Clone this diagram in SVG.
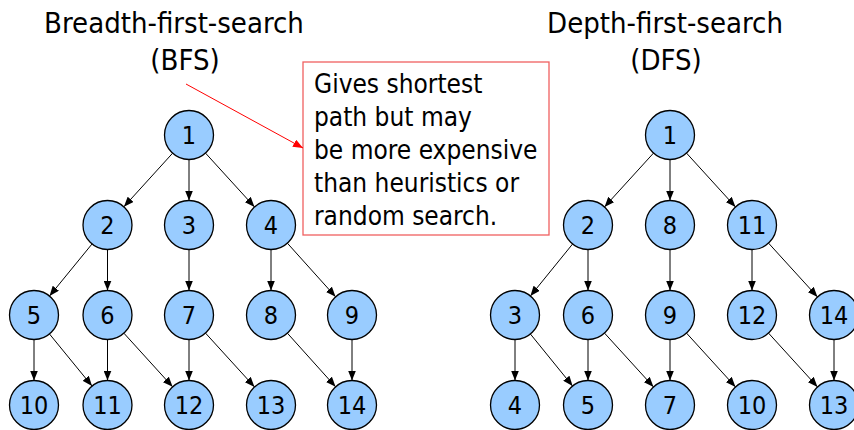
<svg xmlns="http://www.w3.org/2000/svg" width="854" height="430" viewBox="0 0 854 430">
  <defs>
    <marker id="arrow" viewBox="0 0 10 8" refX="10" refY="4" markerWidth="10" markerHeight="8" markerUnits="userSpaceOnUse" orient="auto">
      <path d="M0,0 L10,4 L0,8 z" fill="#000"/>
    </marker>
    <marker id="arrow-red" viewBox="0 0 10 8" refX="10" refY="4" markerWidth="10" markerHeight="8" markerUnits="userSpaceOnUse" orient="auto">
      <path d="M0,0 L10,4 L0,8 z" fill="#FF0000"/>
    </marker>
  </defs>
  <style>
    .title { font-family: "DejaVu Sans Condensed", "DejaVu Sans", sans-serif; font-size: 29px; fill: #000; text-anchor: middle; }
    .note { font-family: "DejaVu Sans Condensed", "DejaVu Sans", sans-serif; font-size: 26px; fill: #000; }
    .node circle { fill: #99CCFF; stroke: #000; stroke-width: 1.3; }
    .node text { font-family: "DejaVu Sans Condensed", "DejaVu Sans", sans-serif; font-size: 25px; fill: #000; text-anchor: middle; }
    .edges line { stroke: #000; stroke-width: 1; marker-end: url(#arrow); }
  </style>
  <rect width="854" height="430" fill="#fff"/>

  <!-- titles -->
  <text class="title" x="174" y="33">Breadth-first-search</text>
  <text class="title" x="185" y="70">(BFS)</text>
  <text class="title" x="665" y="33">Depth-first-search</text>
  <text class="title" x="666" y="70">(DFS)</text>

  <!-- callout -->
  <g id="callout">
    <rect x="303" y="62" width="246" height="173" fill="#fff" stroke="#F06060" stroke-width="1.3"/>
    <text class="note" x="314" y="93">Gives shortest</text>
    <text class="note" x="314" y="126">path but may</text>
    <text class="note" x="314" y="159">be more expensive</text>
    <text class="note" x="314" y="192">than heuristics or</text>
    <text class="note" x="314" y="225">random search.</text>
    <line x1="186" y1="84" x2="303" y2="148" stroke="#FF0000" stroke-width="1" marker-end="url(#arrow-red)"/>
  </g>

  <!-- connectors -->
  <g id="connectors" class="edges">
    <!-- BFS -->
    <line x1="172.6" y1="153.2" x2="123.9" y2="206.8"/>
    <line x1="189" y1="159.5" x2="189" y2="200.5"/>
    <line x1="205.5" y1="153.1" x2="254.5" y2="206.9"/>
    <line x1="92" y1="244" x2="49.5" y2="296"/>
    <line x1="107.5" y1="249.5" x2="107.5" y2="290.5"/>
    <line x1="189" y1="249.5" x2="189" y2="290.5"/>
    <line x1="271" y1="249.5" x2="271" y2="290.5"/>
    <line x1="287.4" y1="243.2" x2="335.6" y2="296.8"/>
    <line x1="34" y1="339.5" x2="34" y2="380.5"/>
    <line x1="49.5" y1="334" x2="92" y2="386"/>
    <line x1="107.5" y1="339.5" x2="107.5" y2="380.5"/>
    <line x1="123.9" y1="333.2" x2="172.6" y2="386.8"/>
    <line x1="189" y1="339.5" x2="189" y2="380.5"/>
    <line x1="205.5" y1="333.1" x2="254.5" y2="386.9"/>
    <line x1="287.4" y1="333.2" x2="335.6" y2="386.8"/>
    <line x1="352" y1="339.5" x2="352" y2="380.5"/>
    <!-- DFS -->
    <line x1="653.5" y1="153.1" x2="604.5" y2="206.9"/>
    <line x1="670" y1="159.5" x2="670" y2="200.5"/>
    <line x1="686.5" y1="153.1" x2="735.5" y2="206.9"/>
    <line x1="572.6" y1="244" x2="530.4" y2="296"/>
    <line x1="588" y1="249.5" x2="588" y2="290.5"/>
    <line x1="670" y1="249.5" x2="670" y2="290.5"/>
    <line x1="752" y1="249.5" x2="752" y2="290.5"/>
    <line x1="768.5" y1="243.1" x2="817.5" y2="296.9"/>
    <line x1="515" y1="339.5" x2="515" y2="380.5"/>
    <line x1="530.4" y1="334" x2="572.6" y2="386"/>
    <line x1="588" y1="339.5" x2="588" y2="380.5"/>
    <line x1="604.5" y1="333.1" x2="653.5" y2="386.9"/>
    <line x1="670" y1="339.5" x2="670" y2="380.5"/>
    <line x1="686.5" y1="333.1" x2="735.5" y2="386.9"/>
    <line x1="768.5" y1="333.1" x2="817.5" y2="386.9"/>
    <line x1="834" y1="339.5" x2="834" y2="380.5"/>
  </g>

  <!-- BFS nodes -->
  <g id="bfs-1" class="node"><circle cx="189" cy="135" r="24.5"/><text x="189" y="144">1</text></g>
  <g id="bfs-2" class="node"><circle cx="107.5" cy="225" r="24.5"/><text x="107.5" y="234">2</text></g>
  <g id="bfs-3" class="node"><circle cx="189" cy="225" r="24.5"/><text x="189" y="234">3</text></g>
  <g id="bfs-4" class="node"><circle cx="271" cy="225" r="24.5"/><text x="271" y="234">4</text></g>
  <g id="bfs-5" class="node"><circle cx="34" cy="315" r="24.5"/><text x="34" y="324">5</text></g>
  <g id="bfs-6" class="node"><circle cx="107.5" cy="315" r="24.5"/><text x="107.5" y="324">6</text></g>
  <g id="bfs-7" class="node"><circle cx="189" cy="315" r="24.5"/><text x="189" y="324">7</text></g>
  <g id="bfs-8" class="node"><circle cx="271" cy="315" r="24.5"/><text x="271" y="324">8</text></g>
  <g id="bfs-9" class="node"><circle cx="352" cy="315" r="24.5"/><text x="352" y="324">9</text></g>
  <g id="bfs-10" class="node"><circle cx="34" cy="405" r="24.5"/><text x="34" y="414">10</text></g>
  <g id="bfs-11" class="node"><circle cx="107.5" cy="405" r="24.5"/><text x="107.5" y="414">11</text></g>
  <g id="bfs-12" class="node"><circle cx="189" cy="405" r="24.5"/><text x="189" y="414">12</text></g>
  <g id="bfs-13" class="node"><circle cx="271" cy="405" r="24.5"/><text x="271" y="414">13</text></g>
  <g id="bfs-14" class="node"><circle cx="352" cy="405" r="24.5"/><text x="352" y="414">14</text></g>

  <!-- DFS nodes -->
  <g id="dfs-1" class="node"><circle cx="670" cy="135" r="24.5"/><text x="670" y="144">1</text></g>
  <g id="dfs-2" class="node"><circle cx="588" cy="225" r="24.5"/><text x="588" y="234">2</text></g>
  <g id="dfs-8" class="node"><circle cx="670" cy="225" r="24.5"/><text x="670" y="234">8</text></g>
  <g id="dfs-11" class="node"><circle cx="752" cy="225" r="24.5"/><text x="752" y="234">11</text></g>
  <g id="dfs-3" class="node"><circle cx="515" cy="315" r="24.5"/><text x="515" y="324">3</text></g>
  <g id="dfs-6" class="node"><circle cx="588" cy="315" r="24.5"/><text x="588" y="324">6</text></g>
  <g id="dfs-9" class="node"><circle cx="670" cy="315" r="24.5"/><text x="670" y="324">9</text></g>
  <g id="dfs-12" class="node"><circle cx="752" cy="315" r="24.5"/><text x="752" y="324">12</text></g>
  <g id="dfs-14" class="node"><circle cx="834" cy="315" r="24.5"/><text x="834" y="324">14</text></g>
  <g id="dfs-4" class="node"><circle cx="515" cy="405" r="24.5"/><text x="515" y="414">4</text></g>
  <g id="dfs-5" class="node"><circle cx="588" cy="405" r="24.5"/><text x="588" y="414">5</text></g>
  <g id="dfs-7" class="node"><circle cx="670" cy="405" r="24.5"/><text x="670" y="414">7</text></g>
  <g id="dfs-10" class="node"><circle cx="752" cy="405" r="24.5"/><text x="752" y="414">10</text></g>
  <g id="dfs-13" class="node"><circle cx="834" cy="405" r="24.5"/><text x="834" y="414">13</text></g>
</svg>
